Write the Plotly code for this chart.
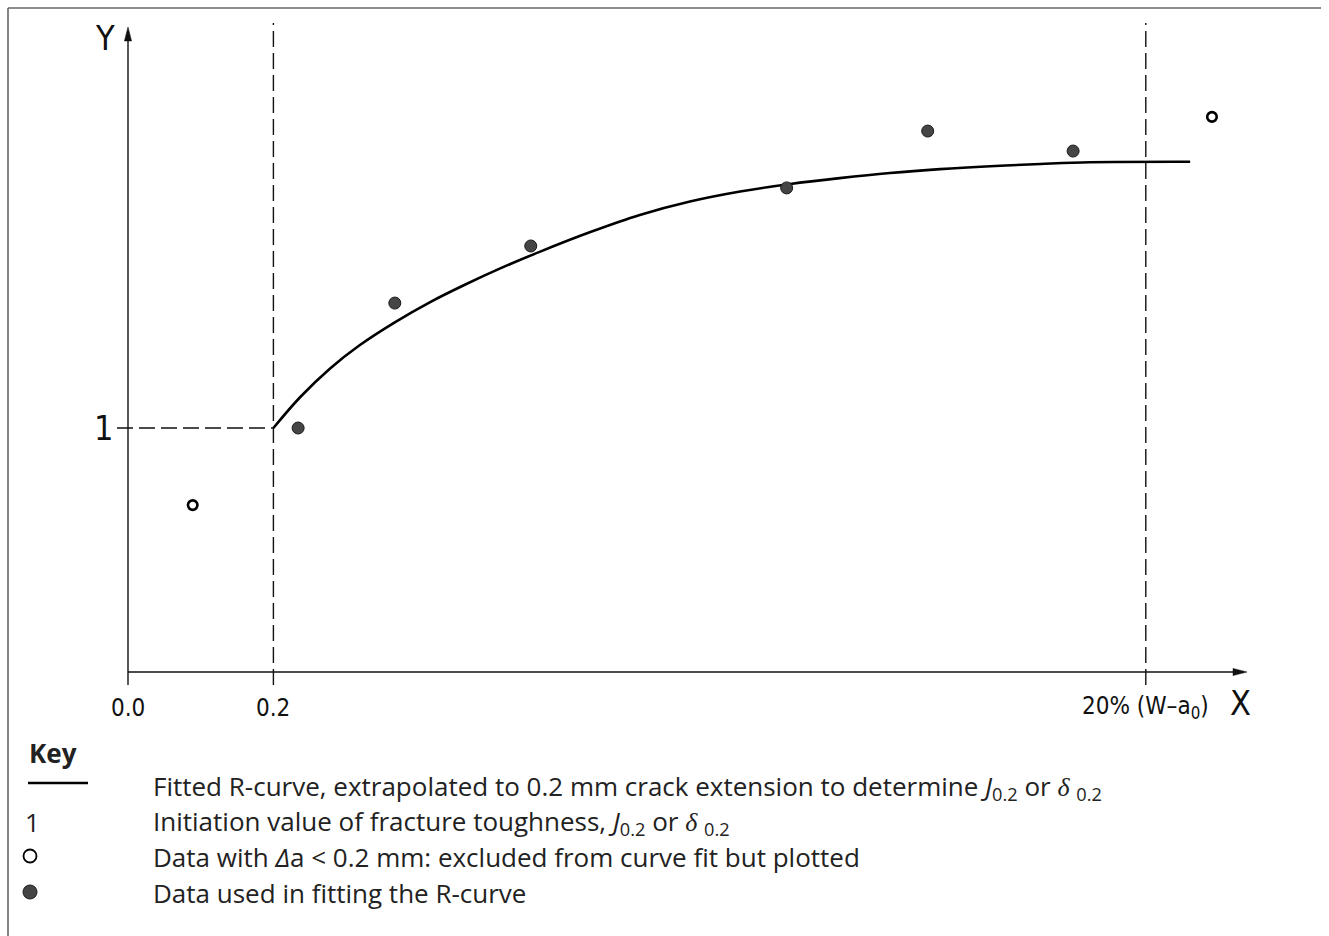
import plotly.graph_objects as go

# ---------------- data ----------------
x_ticks = [0.0, 0.2, 1.4]
x_tick_labels = ["0.0", "0.2", "20% (W\u2013a<sub>0</sub>)"]
x_init = 0.2          # 0.2 mm crack extension
y_init = 1.0          # initiation value (key "1")
x_limit = 1.4         # 20% (W-a0)

open_x = [0.089, 1.491]
open_y = [0.684, 2.275]

fill_x = [0.234, 0.367, 0.554, 0.906, 1.100, 1.300]
fill_y = [1.000, 1.512, 1.746, 1.984, 2.217, 2.135]

curve_x = [0.200, 0.237, 0.278, 0.319, 0.367, 0.415, 0.464, 0.512, 0.567, 0.636,
           0.704, 0.773, 0.842, 0.911, 0.979, 1.048, 1.117, 1.186, 1.255, 1.323,
           1.461]
curve_y = [1.000, 1.127, 1.244, 1.340, 1.433, 1.515, 1.588, 1.654, 1.723, 1.803,
           1.873, 1.928, 1.969, 2.000, 2.024, 2.045, 2.061, 2.073, 2.082, 2.089,
           2.091]

key_lines = [
    "Fitted R-curve, extrapolated to 0.2 mm crack extension to determine "
    "<i>J</i><sub>0.2</sub> or <span style=\"font-family:'Liberation Serif'\"><i>\u03b4</i></span> <sub>0.2</sub>",
    "Initiation value of fracture toughness, <i>J</i><sub>0.2</sub> or "
    "<span style=\"font-family:'Liberation Serif'\"><i>\u03b4</i></span> <sub>0.2</sub>",
    "Data with <i>\u0394</i>a &lt; 0.2 mm: excluded from curve fit but plotted",
    "Data used in fitting the R-curve",
]

# ---------------- layout geometry ----------------
W, H = 1329, 936
L, R, T, B = 90, 1280, 15, 700      # plot area in pixels
X0PX, Y0PX = 128, 672                # pixel position of origin
XS, YS = 727.0, 244.0                # pixels per unit


def dx(px):
    return (px - X0PX) / XS


def dy(py):
    return (Y0PX - py) / YS


def ppx(px):
    return (px - L) / (R - L)


def ppy(py):
    return (B - py) / (B - T)


TECH = "Liberation Sans Narrow, DejaVu Sans Condensed, Liberation Sans, sans-serif"
TEXT = "Open Sans, Noto Sans, sans-serif"
INK = "#111111"

fig = go.Figure()

fig.add_trace(go.Scatter(
    x=curve_x, y=curve_y, mode="lines",
    line=dict(color="#000000", width=2.6, shape="spline", smoothing=1.0),
    hoverinfo="skip", showlegend=False, cliponaxis=False))

fig.add_trace(go.Scatter(
    x=fill_x, y=fill_y, mode="markers",
    marker=dict(size=12, color="#454545", line=dict(color="#1a1a1a", width=1)),
    hoverinfo="skip", showlegend=False, cliponaxis=False))

fig.add_trace(go.Scatter(
    x=open_x, y=open_y, mode="markers",
    marker=dict(size=9.5, color="#ffffff", line=dict(color="#000000", width=2.6)),
    hoverinfo="skip", showlegend=False, cliponaxis=False))

shapes = []
axis_line = dict(color=INK, width=1.4)
dash_line = dict(color=INK, width=1.4, dash="16px,6px")

# axes
shapes.append(dict(type="line", xref="x", yref="y", x0=0, y0=0, x1=dx(1236), y1=0, line=axis_line))
shapes.append(dict(type="line", xref="x", yref="y", x0=0, y0=0, x1=0, y1=dy(38), line=axis_line))
# arrowheads
xt, yt = dx(1247), dy(27)
shapes.append(dict(type="path", xref="x", yref="y",
                   path=f"M{xt},0 L{dx(1233)},{3.6/YS} L{dx(1233)},{-3.6/YS} Z",
                   fillcolor=INK, line=dict(color=INK, width=0.5)))
shapes.append(dict(type="path", xref="x", yref="y",
                   path=f"M0,{yt} L{-3.6/XS},{dy(41)} L{3.6/XS},{dy(41)} Z",
                   fillcolor=INK, line=dict(color=INK, width=0.5)))
# tick at origin
shapes.append(dict(type="line", xref="x", yref="y", x0=0, y0=0, x1=0, y1=dy(685), line=axis_line))
# dashed verticals
for xv in [x_init, x_limit]:
    shapes.append(dict(type="line", xref="x", yref="y", x0=xv, y0=dy(685), x1=xv, y1=dy(23), line=dash_line))
# dashed horizontal at initiation value
shapes.append(dict(type="line", xref="x", yref="y", x0=dx(117), y0=y_init, x1=x_init, y1=y_init, line=dash_line))

# frame (top and left)
frame = dict(color="#666666", width=1.6)
shapes.append(dict(type="line", xref="paper", yref="paper", x0=ppx(8), y0=ppy(8), x1=ppx(1321), y1=ppy(8), line=frame))
shapes.append(dict(type="line", xref="paper", yref="paper", x0=ppx(8), y0=ppy(8), x1=ppx(8), y1=ppy(940), line=frame))

# key symbols
rows = [787, 822, 857, 893]
shapes.append(dict(type="line", xref="paper", yref="paper", x0=ppx(28), y0=ppy(783), x1=ppx(88), y1=ppy(783),
                   line=dict(color="#000000", width=2.4)))
r = 6.5
cy = rows[2] - 1
shapes.append(dict(type="circle", xref="paper", yref="paper",
                   x0=ppx(30 - r), x1=ppx(30 + r), y0=ppy(cy + r), y1=ppy(cy - r),
                   fillcolor="#ffffff", line=dict(color="#000000", width=1.8)))
r = 7.0
cy = rows[3] - 1
shapes.append(dict(type="circle", xref="paper", yref="paper",
                   x0=ppx(30 - r), x1=ppx(30 + r), y0=ppy(cy + r), y1=ppy(cy - r),
                   fillcolor="#444444", line=dict(color="#1a1a1a", width=1)))

ann = []
tech_big = dict(family=TECH, size=34, color=INK)
tech_small = dict(family=TECH, size=24, color=INK)
ann.append(dict(x=ppx(105), y=ppy(38), xref="paper", yref="paper", text="Y", showarrow=False,
                xanchor="center", yanchor="middle", font=tech_big))
ann.append(dict(x=dx(1240), y=ppy(703), xref="x", yref="paper", text="X", showarrow=False,
                xanchor="center", yanchor="middle", font=tech_big))
ann.append(dict(x=ppx(103), y=y_init, xref="paper", yref="y", text="1", showarrow=False,
                xanchor="center", yanchor="middle", font=tech_big))
for xv, lab in zip(x_ticks, x_tick_labels):
    ann.append(dict(x=xv, y=ppy(708), xref="x", yref="paper", text=lab, showarrow=False,
                    xanchor="center", yanchor="middle", font=tech_small))

txt_font = dict(family=TEXT, size=26, color="#222222")
ann.append(dict(x=ppx(27), y=ppy(753), xref="paper", yref="paper", text="<b>Key</b>", showarrow=False,
                xanchor="left", yanchor="middle", font=txt_font))
ann.append(dict(x=ppx(32), y=ppy(rows[1]), xref="paper", yref="paper", text="1", showarrow=False,
                xanchor="center", yanchor="middle", font=txt_font))
for yrow, t in zip(rows, key_lines):
    ann.append(dict(x=ppx(151), y=ppy(yrow), xref="paper", yref="paper", text=t, showarrow=False,
                    xanchor="left", yanchor="middle", align="left", font=txt_font))

fig.update_layout(
    width=W, height=H,
    margin=dict(l=L, r=W - R, t=T, b=H - B, pad=0),
    paper_bgcolor="#ffffff", plot_bgcolor="#ffffff",
    xaxis=dict(range=[dx(L), dx(R)], visible=False, fixedrange=True),
    yaxis=dict(range=[dy(B), dy(T)], visible=False, fixedrange=True),
    shapes=shapes, annotations=ann, showlegend=False,
)

fig.write_html("out.html", config={"displayModeBar": False},
               post_script="document.body.style.margin='0';")
